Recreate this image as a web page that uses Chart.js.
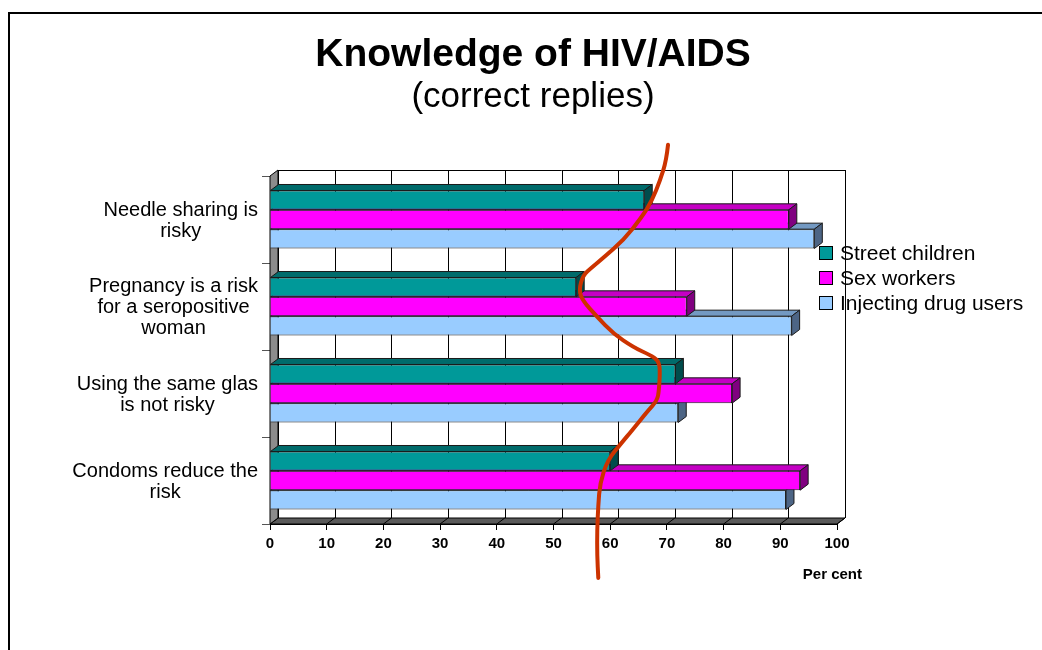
<!DOCTYPE html>
<html>
<head>
<meta charset="utf-8">
<script src="https://cdn.jsdelivr.net/npm/chart.js@4.4.1/dist/chart.umd.min.js"></script>
<style>
html,body{margin:0;padding:0;background:#fff;}
#wrap{position:relative;width:1042px;height:650px;overflow:hidden;font-family:"Liberation Sans",Arial,sans-serif;color:#000;}
#frame{position:absolute;left:8px;top:12px;width:1100px;height:700px;border-left:2px solid #000;border-top:2px solid #000;box-sizing:border-box;}
#c{position:absolute;left:0;top:0;}
.t1{position:absolute;left:0;width:1066px;top:31px;text-align:center;font-weight:bold;font-size:39px;line-height:44px;}
.t2{position:absolute;left:0;width:1066px;top:75px;text-align:center;font-size:35px;line-height:40px;}
#legend{position:absolute;left:819px;top:240px;}
.li{height:25px;line-height:25px;font-size:21px;white-space:nowrap;display:flex;align-items:center;}
.lb{display:inline-block;width:12px;height:12px;border:1px solid #000;margin-right:7px;}
.unit{position:absolute;left:790px;width:72px;text-align:right;top:565px;font-size:15px;font-weight:bold;line-height:18px;}
</style>
</head>
<body>
<div id="wrap">
  <div id="frame"></div>
  <canvas id="c" width="1042" height="650"></canvas>
  <div class="t1">Knowledge of HIV/AIDS</div>
  <div class="t2">(correct replies)</div>
  <div id="legend"></div>
  <div class="unit">Per cent</div>
</div>
<script>
// ---- data ----
const categories = [
  ["Needle sharing is", "risky"],
  ["Pregnancy is a risk", "for a seropositive", "woman"],
  ["Using the same glas", "is not risky"],
  ["Condoms reduce the", "risk"]
];
const seriesNames = ["Street children", "Sex workers", "Injecting drug users"];
const streetChildren = [66, 54, 71.5, 60];
const sexWorkers = [91.5, 73.5, 81.5, 93.5];
const drugUsers = [96, 92, 72, 91];
const xTickValues = [0, 10, 20, 30, 40, 50, 60, 70, 80, 90, 100];
const axisUnit = "Per cent";
// hand-drawn red curve: x in per cent, y in category-index units
const curveX = [70.2, 69.9, 68.8, 67.4, 65.6, 62.3, 58.8, 56.8, 55.2, 54.5, 55.1, 57.7, 60.5, 64.1, 67.1, 68.5, 68.8, 68.6, 68.3, 66.5, 63.9, 62.1, 59.5, 58.2, 57.9, 57.7, 57.7, 57.9];
const curveY = [-0.86, -0.68, -0.45, -0.22, -0.03, 0.24, 0.44, 0.55, 0.64, 0.81, 0.93, 1.12, 1.31, 1.47, 1.56, 1.62, 1.73, 1.96, 2.08, 2.21, 2.42, 2.56, 2.77, 3.03, 3.28, 3.57, 3.86, 4.12];

// ---- styles ----
const frontColors = ["#009999", "#ff00ff", "#99ccff"];
const topColors = ["#006b6b", "#c400c4", "#7399c2"];
const sideColors = ["#004c4c", "#800080", "#4d6585"];
const DX = 8, DY = 6;
const FONT = '"Liberation Sans", Arial, sans-serif';

// legend (HTML)
const leg = document.getElementById('legend');
seriesNames.forEach((n, i) => {
  const d = document.createElement('div'); d.className = 'li';
  const b = document.createElement('span'); b.className = 'lb'; b.style.background = frontColors[i];
  d.appendChild(b); d.appendChild(document.createTextNode(n)); leg.appendChild(d);
});
document.querySelector('.unit').textContent = axisUnit;

function poly(ctx, pts, fill, stroke) {
  ctx.beginPath();
  ctx.moveTo(pts[0][0], pts[0][1]);
  for (let i = 1; i < pts.length; i++) ctx.lineTo(pts[i][0], pts[i][1]);
  ctx.closePath();
  if (fill) { ctx.fillStyle = fill; ctx.fill(); }
  if (stroke) { ctx.strokeStyle = stroke; ctx.lineWidth = 1; ctx.stroke(); }
}

const depthPlugin = {
  id: 'depth3d',
  beforeDatasetsDraw(chart) {
    const {ctx, chartArea: a, scales: {x}} = chart;
    ctx.save();
    ctx.fillStyle = '#fff';
    ctx.fillRect(a.left + DX, a.top - DY, a.right - a.left, a.bottom - a.top);
    ctx.strokeStyle = '#000'; ctx.lineWidth = 1;
    ctx.beginPath();
    xTickValues.forEach(v => {
      const px = Math.round(x.getPixelForValue(v) + DX) + 0.5;
      ctx.moveTo(px, a.top - DY); ctx.lineTo(px, a.bottom - DY);
    });
    ctx.moveTo(a.left + DX, Math.round(a.top - DY) + 0.5);
    ctx.lineTo(a.right + DX, Math.round(a.top - DY) + 0.5);
    ctx.stroke();
    // floor
    poly(ctx, [[a.left, a.bottom], [a.right, a.bottom], [a.right + DX, a.bottom - DY], [a.left + DX, a.bottom - DY]], '#5a5a5a', '#000');
    ctx.beginPath();
    xTickValues.forEach(v => {
      const px = x.getPixelForValue(v);
      ctx.moveTo(px, a.bottom); ctx.lineTo(px + DX, a.bottom - DY);
    });
    ctx.strokeStyle = '#000'; ctx.stroke();
    // left wall
    poly(ctx, [[a.left, a.top], [a.left + DX, a.top - DY], [a.left + DX, a.bottom - DY], [a.left, a.bottom]], '#8c8c8c', '#000');
    ctx.restore();
  },
  afterDatasetDraw(chart, args) {
    const meta = args.meta;
    if (meta.type !== 'bar') return;
    const i = args.index;
    const ctx = chart.ctx;
    ctx.save();
    meta.data.forEach(el => {
      const p = el.getProps(['x', 'y', 'base', 'height'], true);
      const top = p.y - p.height / 2, bot = p.y + p.height / 2;
      poly(ctx, [[p.base, top], [p.base + DX, top - DY], [p.x + DX, top - DY], [p.x, top]], topColors[i], '#1a1a1a');
      poly(ctx, [[p.x, top], [p.x + DX, top - DY], [p.x + DX, bot - DY], [p.x, bot]], sideColors[i], '#1a1a1a');
    });
    ctx.restore();
  },
  afterDraw(chart) {
    const {ctx, chartArea: a, scales: {x, y}} = chart;
    ctx.save();
    // category labels, each block centred on its own widest line, right edge near axis
    ctx.font = '20px ' + FONT;
    ctx.fillStyle = '#000';
    ctx.textAlign = 'center';
    ctx.textBaseline = 'middle';
    const LH = 21;
    categories.forEach((lines, i) => {
      const cy = y.getPixelForValue(i) + 1;
      const w = Math.max(...lines.map(l => ctx.measureText(l).width));
      const cx = a.left - 12 - w / 2;
      lines.forEach((l, k) => ctx.fillText(l, cx, cy + (k - (lines.length - 1) / 2) * LH));
    });
    // hand-drawn red annotation curve (per cent on x scale, fractional category on y scale)
    const y0 = y.getPixelForValue(0), y1 = y.getPixelForValue(1);
    const pts = curveX.map((v, k) => [x.getPixelForValue(v), y0 + curveY[k] * (y1 - y0)]);
    ctx.beginPath();
    ctx.moveTo(pts[0][0], pts[0][1]);
    for (let k = 1; k < pts.length - 1; k++) {
      const mx = (pts[k][0] + pts[k + 1][0]) / 2, my = (pts[k][1] + pts[k + 1][1]) / 2;
      ctx.quadraticCurveTo(pts[k][0], pts[k][1], mx, my);
    }
    ctx.lineTo(pts[pts.length - 1][0], pts[pts.length - 1][1]);
    ctx.strokeStyle = '#cc3300';
    ctx.lineWidth = 4;
    ctx.lineJoin = 'round';
    ctx.lineCap = 'round';
    ctx.stroke();
    ctx.restore();
  }
};

const barCommon = { barPercentage: 1, categoryPercentage: 0.667, borderColor: '#1a1a1a', borderWidth: 1, borderSkipped: 'start' };

const chart = new Chart(document.getElementById('c'), {
  type: 'bar',
  data: {
    labels: categories,
    datasets: seriesNames.map((n, i) => Object.assign({
      label: n,
      data: [streetChildren, sexWorkers, drugUsers][i],
      backgroundColor: frontColors[i],
      stack: 's' + i
    }, barCommon))
  },
  options: {
    indexAxis: 'y',
    responsive: false,
    animation: false,
    devicePixelRatio: 1,
    layout: { padding: { left: 0, top: 176, right: 205, bottom: 86 } },
    plugins: { legend: { display: false }, tooltip: { enabled: false }, title: { display: false } },
    scales: {
      x: {
        type: 'linear', min: 0, max: 100,
        afterBuildTicks: s => { s.ticks = xTickValues.map(v => ({value: v})); },
        afterFit: s => { s.height = 40; },
        ticks: { color: '#000', font: { family: FONT, size: 15, weight: 'bold' }, padding: 5, maxRotation: 0 },
        grid: { drawOnChartArea: false, drawTicks: true, tickLength: 6, color: '#000' },
        border: { display: true, color: '#000', width: 1 }
      },
      y: {
        type: 'category',
        afterFit: s => { s.width = 270; },
        ticks: { display: false },
        grid: { drawOnChartArea: false, drawTicks: true, tickLength: 8, color: '#555' },
        border: { display: true, color: '#000', width: 1 }
      }
    }
  },
  plugins: [depthPlugin]
});
</script>
</body>
</html>
